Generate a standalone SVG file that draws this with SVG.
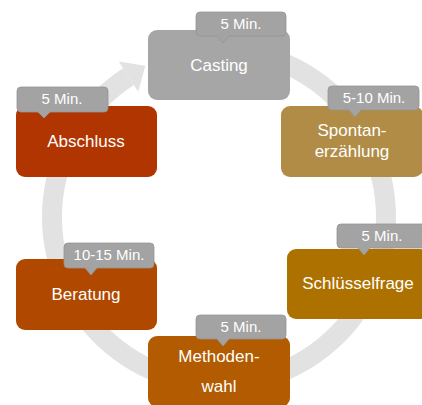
<svg xmlns="http://www.w3.org/2000/svg" width="422" height="405" viewBox="0 0 422 405">
<style>
.box{stroke:none}
.t{font-family:"Liberation Sans",Arial,sans-serif;font-size:17px;fill:#ffffff;text-anchor:middle}
.ct{font-family:"Liberation Sans",Arial,sans-serif;font-size:15px;fill:#ffffff;text-anchor:middle}
.co{fill:#a3a3a3;stroke:#959595;stroke-width:0.8}
</style>
<rect width="422" height="405" fill="#ffffff"/>
<g id="connectors">
<path d="M233.6,50.6 A167,167 0 1 1 128.5,76.6" fill="none" stroke="#e2e2e2" stroke-width="20"/>
<polygon points="118.8,61.5 145.3,65.8 138.2,91.7" fill="#e2e2e2"/>
</g>
<g id="casting">
<rect class="box" x="148" y="30" width="142" height="70" rx="9" fill="#a6a6a6"/>
<text class="t" x="219" y="71">Casting</text>
<path class="co" d="M200,12 H282 Q286,12 286,16 V32 Q286,36 282,36 H229 L223,43 L217,36 H200 Q196,36 196,32 V16 Q196,12 200,12 Z"/>
<text class="ct" x="241" y="29">5 Min.</text>
</g>
<g id="spontan">
<rect class="box" x="281" y="106" width="142" height="71" rx="9" fill="#b08c47"/>
<text class="t" x="352" y="136">Spontan-</text>
<text class="t" x="352" y="157">erzählung</text>
<path class="co" d="M332,86 H415 Q419,86 419,90 V106 Q419,110 415,110 H361 L355,117 L349,110 H332 Q328,110 328,106 V90 Q328,86 332,86 Z"/>
<text class="ct" x="374" y="103">5-10 Min.</text>
</g>
<g id="schluesselfrage">
<rect class="box" x="287" y="249" width="142" height="70" rx="9" fill="#ad7100"/>
<text class="t" x="358" y="289">Schlüsselfrage</text>
<path class="co" d="M341,224 H423 Q427,224 427,228 V244 Q427,248 423,248 H370 L364,255 L358,248 H341 Q337,248 337,244 V228 Q337,224 341,224 Z"/>
<text class="ct" x="382" y="241">5 Min.</text>
</g>
<g id="methodenwahl">
<rect class="box" x="148" y="336" width="142" height="71" rx="9" fill="#b25b00"/>
<text class="t" x="219" y="362">Methoden-</text>
<text class="t" x="219" y="392">wahl</text>
<path class="co" d="M200,315 H282 Q286,315 286,319 V335 Q286,339 282,339 H229 L223,346 L217,339 H200 Q196,339 196,335 V319 Q196,315 200,315 Z"/>
<text class="ct" x="241" y="332">5 Min.</text>
</g>
<g id="beratung">
<rect class="box" x="16" y="259" width="141" height="71" rx="9" fill="#b04800"/>
<text class="t" x="86" y="300">Beratung</text>
<path class="co" d="M68,243 H150 Q154,243 154,247 V264 Q154,268 150,268 H97 L91,275 L85,268 H68 Q64,268 64,264 V247 Q64,243 68,243 Z"/>
<text class="ct" x="109" y="260">10-15 Min.</text>
</g>
<g id="abschluss">
<rect class="box" x="16" y="106" width="141" height="71" rx="9" fill="#b03500"/>
<text class="t" x="86" y="147">Abschluss</text>
<path class="co" d="M21,87 H104 Q108,87 108,91 V108 Q108,112 104,112 H50 L44,118 L38,112 H21 Q17,112 17,108 V91 Q17,87 21,87 Z"/>
<text class="ct" x="62" y="104">5 Min.</text>
</g>
</svg>
